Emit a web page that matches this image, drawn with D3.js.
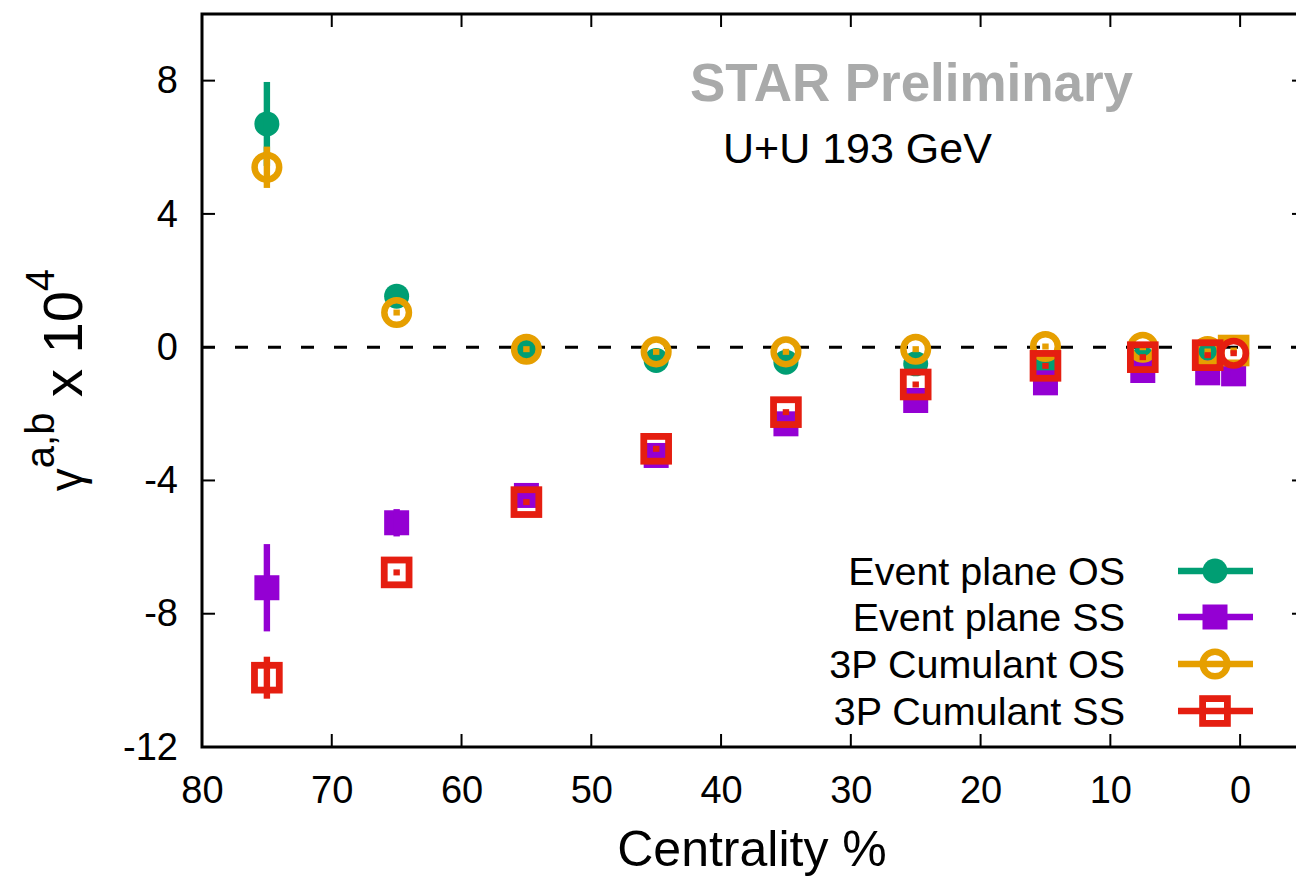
<!DOCTYPE html>
<html><head><meta charset="utf-8">
<script src="https://cdn.jsdelivr.net/npm/d3@7"></script>
<style>
html,body{margin:0;padding:0;background:#fff;overflow:hidden}
text{font-family:"Liberation Sans",Arial,Helvetica,sans-serif}
</style></head>
<body><svg id="c" width="1296" height="880"></svg>
<script>
// ---- data ----
const centrality = [75, 65, 55, 45, 35, 25, 15, 7.5, 2.5, 0.5];
const epOS     = [6.70, 1.53, -0.08, -0.40, -0.45, -0.50, -0.50, -0.35, -0.20, null];
const epOSerr  = [1.26, 0.20, 0.05, 0.05, 0.05, 0.05, 0.05, 0.05, 0.05, null];
const epSS     = [-7.22, -5.27, -4.45, -3.25, -2.30, -1.60, -1.07, -0.70, -0.77, -0.80];
const epSSerr  = [1.31, 0.41, 0.15, 0.10, 0.08, 0.06, 0.05, 0.05, 0.05, 0.05];
const cuOS     = [5.40, 1.04, -0.06, -0.14, -0.14, -0.06, 0.02, 0.00, -0.13, -0.10];
const cuOSerr  = [0.62, 0.08, 0.05, 0.05, 0.05, 0.05, 0.05, 0.05, 0.05, 0.05];
const cuSS     = [-9.92, -6.76, -4.65, -3.05, -1.95, -1.12, -0.56, -0.30, -0.24, -0.18];
const cuSSerr  = [0.63, 0.08, 0.06, 0.05, 0.05, 0.05, 0.05, 0.05, 0.05, 0.05];
const xTicks = [80, 70, 60, 50, 40, 30, 20, 10, 0];
const yTicks = [8, 4, 0, -4, -8, -12];
const seriesNames = ["Event plane OS", "Event plane SS", "3P Cumulant OS", "3P Cumulant SS"];

const svg = d3.select("#c");
const L = 202, R = 1305, T = 14, B = 747;
const x = d3.scaleLinear().domain([80, -5]).range([L, R]);
const y = d3.scaleLinear().domain([10, -12]).range([T, B]);

const series = [
  {name: seriesNames[0], v: epOS, e: epOSerr, color: "#009e73", sym: "fcircle"},
  {name: seriesNames[1], v: epSS, e: epSSerr, color: "#9400d3", sym: "fsquare"},
  {name: seriesNames[2], v: cuOS, e: cuOSerr, color: "#e69f00", sym: "ocircle", lastSym: "osquare"},
  {name: seriesNames[3], v: cuSS, e: cuSSerr, color: "#e51e10", sym: "osquare", lastSym: "ocircle"}
];

function drawSym(g, sym, cx, cy, color) {
  if (sym === "fcircle") g.append("circle").attr("cx", cx).attr("cy", cy).attr("r", 12.5).attr("fill", color);
  else if (sym === "fsquare") g.append("rect").attr("x", cx - 12.5).attr("y", cy - 12.5).attr("width", 25).attr("height", 25).attr("fill", color);
  else if (sym === "ocircle") g.append("circle").attr("cx", cx).attr("cy", cy).attr("r", 12.3).attr("fill", "none").attr("stroke", color).attr("stroke-width", 6.5);
  else if (sym === "osquare") g.append("rect").attr("x", cx - 12.4).attr("y", cy - 12.4).attr("width", 24.8).attr("height", 24.8).attr("fill", "none").attr("stroke", color).attr("stroke-width", 6.8);
}

// zero line
svg.append("line").attr("x1", L).attr("x2", R).attr("y1", y(0)).attr("y2", y(0))
  .attr("stroke", "#000").attr("stroke-width", 3).attr("stroke-dasharray", "13,20");

// data
const pg = svg.append("g");
series.forEach(s => {
  const g = pg.append("g");
  centrality.forEach((c, i) => {
    if (s.v[i] === null) return;
    const cx = x(c), cy = y(s.v[i]);
    const sym = (i === centrality.length - 1 && s.lastSym) ? s.lastSym : s.sym;
    drawSym(g, sym, cx, cy, s.color);
    let y1 = y(s.v[i] + s.e[i]), y2 = y(s.v[i] - s.e[i]);
    if (y2 - y1 < 6) { const m = (y1 + y2) / 2; y1 = m - 3; y2 = m + 3; }
    g.append("rect").attr("x", cx - 3.2).attr("width", 6.4).attr("y", y1).attr("height", y2 - y1).attr("fill", s.color);
  });
});

// frame
svg.append("rect").attr("x", L).attr("y", T).attr("width", R - L).attr("height", B - T)
  .attr("fill", "none").attr("stroke", "#000").attr("stroke-width", 3);

// ticks
const tl = 13;
const tg = svg.append("g").attr("stroke", "#000").attr("stroke-width", 2);
xTicks.forEach(t => {
  tg.append("line").attr("x1", x(t)).attr("x2", x(t)).attr("y1", B).attr("y2", B - tl);
  tg.append("line").attr("x1", x(t)).attr("x2", x(t)).attr("y1", T).attr("y2", T + tl);
});
yTicks.forEach(t => {
  tg.append("line").attr("x1", L).attr("x2", L + tl).attr("y1", y(t)).attr("y2", y(t));
  tg.append("line").attr("x1", R).attr("x2", R - tl).attr("y1", y(t)).attr("y2", y(t));
});

// tick labels via axes
const xAxis = svg.append("g").attr("transform", `translate(0,${B})`)
  .call(d3.axisBottom(x).tickValues(xTicks).tickSize(0).tickPadding(29).tickFormat(d3.format("d")));
xAxis.select(".domain").remove();
xAxis.selectAll("text").attr("font-size", 38).attr("fill", "#000").attr("font-family", "Liberation Sans, Arial, sans-serif").attr("dy", "0.71em");

const yAxis = svg.append("g").attr("transform", `translate(${L},0)`)
  .call(d3.axisLeft(y).tickValues(yTicks).tickSize(0).tickPadding(24).tickFormat(d => d3.format("d")(d).replace("−", "-")));
yAxis.select(".domain").remove();
yAxis.selectAll("text").attr("font-size", 38).attr("fill", "#000").attr("font-family", "Liberation Sans, Arial, sans-serif");

// axis titles
svg.append("text").attr("x", 752).attr("y", 866).attr("text-anchor", "middle")
  .attr("font-size", 50).attr("fill", "#000").text("Centrality %");

const yl = svg.append("text").attr("transform", "translate(82,380) rotate(-90)").attr("text-anchor", "middle").attr("fill", "#000");
yl.append("tspan").attr("font-size", 46).text("γ");
yl.append("tspan").attr("font-size", 40).attr("dy", -28).text("a,b");
yl.append("tspan").attr("font-size", 56).attr("dy", 28).text(" x 10");
yl.append("tspan").attr("font-size", 40).attr("dy", -28).text("4");

// annotations
svg.append("text").attr("x", 690).attr("y", 101).attr("font-size", 53).attr("font-weight", "bold")
  .attr("fill", "#a9aaaa").attr("textLength", 443).text("STAR Preliminary");
svg.append("text").attr("x", 723).attr("y", 163).attr("font-size", 43).attr("fill", "#000").text("U+U 193 GeV");

// legend
const rows = [571, 617, 664, 711];
series.forEach((s, i) => {
  const cy = rows[i];
  svg.append("text").attr("x", 1125).attr("y", cy + 14).attr("text-anchor", "end")
    .attr("font-size", 39.5).attr("fill", "#000").text(s.name);
  svg.append("line").attr("x1", 1178).attr("x2", 1253).attr("y1", cy).attr("y2", cy)
    .attr("stroke", s.color).attr("stroke-width", 6.4);
  const g = svg.append("g");
  drawSym(g, s.sym, 1215, cy, s.color);
});
</script></body></html>
